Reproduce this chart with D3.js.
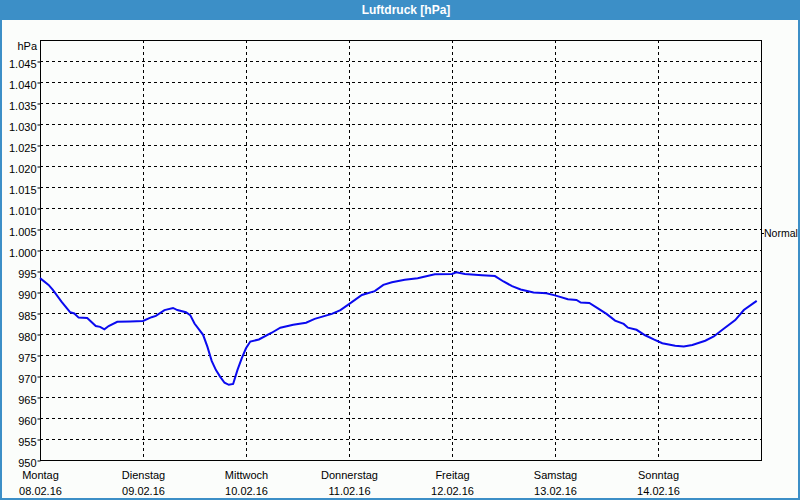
<!DOCTYPE html>
<html lang="de">
<head>
<meta charset="UTF-8">
<title>Luftdruck [hPa]</title>
<script src="https://d3js.org/d3.v7.min.js"></script>
<style>
  body { margin: 0; background: #fff; }
  svg text { font-family: "Liberation Sans", Arial, sans-serif; font-size: 11px; fill: #000; }
</style>
</head>
<body>
<div id="chart"></div>
<script>
// Data: hours since Montag 08.02.16 00:00 and air pressure in hPa
var hours = [0, 2, 3, 5, 7, 8, 9, 11, 13, 14, 15, 16, 18, 21, 24, 26, 27, 29, 31, 32,
  34, 35, 36, 38, 39, 40, 41, 42, 43, 44, 45, 46, 47, 48, 49, 51, 54, 56, 59, 62,
  64, 68, 70, 72, 75, 78, 80, 82, 85, 88, 92, 96, 97, 99, 103, 106, 108, 110, 112, 115,
  118, 120, 123, 125, 126, 128, 130, 132, 134, 136, 137, 139, 141, 143, 145, 148, 150, 152, 155, 157,
  159, 162, 164, 167];
var pressure = [993.3, 991.7, 990.5, 987.7, 985.2, 984.9, 983.9, 983.8, 981.9, 981.7, 981.1, 981.9, 982.9, 983.0, 983.1, 984.0, 984.3, 985.7, 986.2, 985.7,
  985.2, 984.5, 982.5, 979.8, 977.0, 973.6, 971.4, 969.8, 968.4, 967.9, 968.1, 971.4, 974.2, 976.6, 978.2, 978.7, 980.3, 981.5, 982.2, 982.7,
  983.6, 984.8, 985.7, 987.1, 989.3, 990.2, 991.7, 992.3, 992.9, 993.3, 994.2, 994.3, 994.7, 994.3, 994.0, 993.8, 992.5, 991.4, 990.6, 989.9,
  989.7, 989.2, 988.3, 988.1, 987.5, 987.4, 986.1, 984.8, 983.2, 982.4, 981.5, 981.0, 979.7, 978.7, 977.8, 977.2, 977.0, 977.4, 978.4, 979.4,
  981.0, 983.3, 985.7, 987.9];
var dayNames = ["Montag", "Dienstag", "Mittwoch", "Donnerstag", "Freitag", "Samstag", "Sonntag"];
var dayDates = ["08.02.16", "09.02.16", "10.02.16", "11.02.16", "12.02.16", "13.02.16", "14.02.16"];
var yTicks = d3.range(950, 1050, 5);
var normalValue = 1004;

var width = 800, height = 500;
var plotLeft = 40, plotRight = 761, plotTop = 40, plotBottom = 460;

var svg = d3.select("#chart").append("svg")
    .attr("width", width)
    .attr("height", height);

// background and blue frame
svg.append("rect").attr("x", 0).attr("y", 0).attr("width", width).attr("height", height)
    .attr("fill", "#fbfdfb");
svg.append("rect").attr("x", 1).attr("y", 1).attr("width", width - 2).attr("height", height - 2)
    .attr("fill", "none").attr("stroke", "#3c8fc7").attr("stroke-width", 2);
svg.append("rect").attr("x", 0).attr("y", 0).attr("width", width).attr("height", 20)
    .attr("fill", "#3c8fc7");
svg.append("text")
    .attr("x", 406).attr("y", 14)
    .attr("text-anchor", "middle")
    .style("fill", "#fff").style("font-weight", "bold").style("font-size", "12px")
    .text("Luftdruck [hPa]");

var x = d3.scaleLinear().domain([0, 168]).range([plotLeft, plotRight]);
var y = d3.scaleLinear().domain([950, 1050]).range([plotBottom, plotTop]);

var de = d3.formatLocale({ decimal: ",", thousands: ".", grouping: [3], currency: ["", " €"] });
var fmt = de.format(",d");

// horizontal grid
svg.append("g").selectAll("line")
    .data(yTicks.slice(1))
    .join("line")
    .attr("x1", plotLeft).attr("x2", plotRight)
    .attr("y1", function (d) { return Math.round(y(d)) + 0.5; })
    .attr("y2", function (d) { return Math.round(y(d)) + 0.5; })
    .attr("stroke", "#000").attr("stroke-dasharray", "3,3");

// vertical grid
svg.append("g").selectAll("line")
    .data(d3.range(1, 7))
    .join("line")
    .attr("x1", function (d) { return Math.round(x(d * 24)) + 0.5; })
    .attr("x2", function (d) { return Math.round(x(d * 24)) + 0.5; })
    .attr("y1", plotTop).attr("y2", plotBottom)
    .attr("stroke", "#000").attr("stroke-dasharray", "3,3");

// y axis
var yAxis = svg.append("g")
    .attr("transform", "translate(" + (plotLeft + 0.5) + ",0.5)")
    .call(d3.axisLeft(y).tickValues(yTicks).tickFormat(fmt).tickSize(3).tickPadding(1));
yAxis.select(".domain").remove();
yAxis.selectAll("text").attr("dy", "0.5em");
svg.append("text")
    .attr("x", 37).attr("y", 50)
    .attr("text-anchor", "end")
    .text("hPa");

// x axis labels
var xAxis = svg.append("g")
    .attr("transform", "translate(0," + plotBottom + ")")
    .call(d3.axisBottom(x).tickValues(d3.range(0, 7).map(function (d) { return d * 24; })).tickSize(0).tickFormat(""));
xAxis.select(".domain").remove();
xAxis.selectAll(".tick").each(function (d, i) {
    var t = d3.select(this);
    t.append("text").attr("y", 19).attr("text-anchor", "middle").text(dayNames[i]);
    t.append("text").attr("y", 35).attr("text-anchor", "middle").text(dayDates[i]);
});

// plot frame
svg.append("rect")
    .attr("x", plotLeft + 0.5).attr("y", plotTop + 0.5)
    .attr("width", plotRight - plotLeft).attr("height", plotBottom - plotTop)
    .attr("fill", "none").attr("stroke", "#000");

// normal marker
svg.append("line")
    .attr("x1", plotRight).attr("x2", plotRight + 3)
    .attr("y1", Math.round(y(normalValue)) + 0.5).attr("y2", Math.round(y(normalValue)) + 0.5)
    .attr("stroke", "#000");
svg.append("text")
    .attr("x", plotRight + 3).attr("y", y(normalValue) + 4)
    .style("font-size", "10.5px")
    .text("Normal");

// pressure line
var line = d3.line()
    .x(function (d, i) { return x(hours[i]); })
    .y(function (d) { return y(d); });
svg.append("path")
    .datum(pressure)
    .attr("d", line)
    .attr("fill", "none")
    .attr("stroke", "#0a0aef")
    .attr("stroke-width", 2);
</script>
</body>
</html>
